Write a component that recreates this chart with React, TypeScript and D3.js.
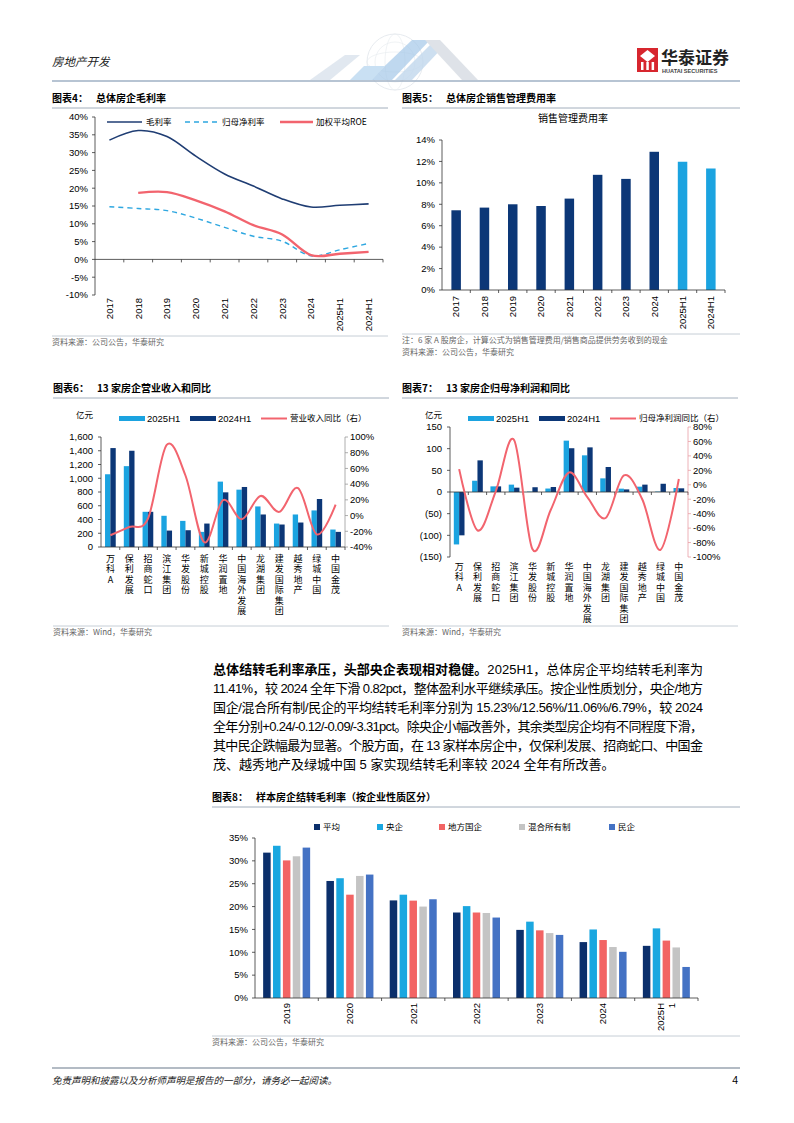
import React from 'react';
import * as d3 from 'd3';

const FONT = "'Liberation Sans', Arial, 'Noto Sans CJK SC', sans-serif";
const CJK = "'Noto Sans CJK SC', 'Liberation Sans', sans-serif";

const NAVY = '#0c3777';
const LIGHT = '#1ba3e0';
const RED = '#f2646e';
const AXIS = '#333';
const SRC = '#666';

// ---------- Chart 4 ----------
const years4 = ['2017', '2018', '2019', '2020', '2021', '2022', '2023', '2024', '2025H1', '2024H1'];
const grossMargin = [33.5, 36.2, 34.5, 29.0, 24.0, 20.6, 17.0, 14.7, 15.2, 15.6];
const netMargin = [14.8, 14.3, 13.7, 11.6, 9.0, 6.5, 5.1, 1.0, 2.7, 4.5];
const roe: (number | null)[] = [null, 18.7, 18.9, 16.6, 13.5, 9.6, 7.0, 1.2, 1.6, 2.1];
const ticks4 = [-10, -5, 0, 5, 10, 15, 20, 25, 30, 35, 40];

// ---------- Chart 5 ----------
const years5 = ['2017', '2018', '2019', '2020', '2021', '2022', '2023', '2024', '2025H1', '2024H1'];
const sgaRate = [7.44, 7.69, 8.0, 7.84, 8.53, 10.75, 10.37, 12.9, 11.97, 11.34];
const ticks5 = [0, 2, 4, 6, 8, 10, 12, 14];

// ---------- Chart 6 & 7 ----------
const companies = ['万科A', '保利发展', '招商蛇口', '滨江集团', '华发股份', '新城控股', '华润置地', '中国海外发展', '龙湖集团', '建发国际集团', '越秀地产', '绿城中国', '中国金茂'];
const rev2025 = [1058, 1176, 512, 454, 380, 220, 951, 834, 590, 341, 473, 532, 254];
const rev2024 = [1439, 1400, 512, 239, 244, 341, 795, 873, 473, 327, 356, 698, 220];
const revYoY = [-25, -14.5, -4, 90, 51, -34, 19.6, -4.7, 25, 4.7, 35, -24, 14];
const revTicksL = [0, 200, 400, 600, 800, 1000, 1200, 1400, 1600];
const revTicksR = [-40, -20, 0, 20, 40, 60, 80, 100];

const np2025 = [-121, 26, 13, 17, 1, 8, 118.5, 84.6, 31.5, 7.7, 12.3, 1, 9.2];
const np2024 = [-100, 73, 13, 10, 11, 11.5, 101, 103, 57.7, 6, 17, 19, 8.5];
const npYoY = [21.7, -63, -9, 62, -89, -35, 17, -17, -46, 13, -20, -90, 8];
const npTicksL = [-150, -100, -50, 0, 50, 100, 150];
const npTicksR = [-100, -80, -60, -40, -20, 0, 20, 40, 60, 80];

// ---------- Chart 8 ----------
const periods8 = ['2019', '2020', '2021', '2022', '2023', '2024', '2025H1'];
const series8 = ['平均', '央企', '地方国企', '混合所有制', '民企'];
const colors8 = ['#0b2f6b', '#1aa7e0', '#f26464', '#c4c4c4', '#4472c4'];
const avg8 = [31.8, 25.6, 21.35, 18.7, 14.9, 12.23, 11.41];
const central8 = [33.3, 26.2, 22.6, 20.1, 16.7, 14.99, 15.23];
const local8 = [30.1, 22.6, 21.3, 18.7, 14.8, 12.68, 12.56];
const mixed8 = [31.0, 26.7, 20.0, 18.6, 14.2, 11.15, 11.06];
const private8 = [32.9, 27.0, 21.6, 17.6, 13.8, 10.1, 6.79];
const ticks8 = [0, 5, 10, 15, 20, 25, 30, 35];

const bodyLines = [
  { bold: '总体结转毛利率承压，头部央企表现相对稳健。', rest: '2025H1，总体房企平均结转毛利率为', justify: true },
  { bold: '', rest: '11.41%，较 2024 全年下滑 0.82pct，整体盈利水平继续承压。按企业性质划分，央企/地方', justify: true },
  { bold: '', rest: '国企/混合所有制/民企的平均结转毛利率分别为 15.23%/12.56%/11.06%/6.79%，较 2024', justify: true },
  { bold: '', rest: '全年分别+0.24/-0.12/-0.09/-3.31pct。除央企小幅改善外，其余类型房企均有不同程度下滑，', justify: true },
  { bold: '', rest: '其中民企跌幅最为显著。个股方面，在 13 家样本房企中，仅保利发展、招商蛇口、中国金', justify: true },
  { bold: '', rest: '茂、越秀地产及绿城中国 5 家实现结转毛利率较 2024 全年有所改善。', justify: false },
];

function Title({ x, y, x2, label, text }: { x: number; y: number; x2: number; label: string; text: string }) {
  return (
    <g>
      <text x={x} y={y} fontFamily={CJK} fontSize={10} fontWeight="bold" fill="#000">
        {label}
        <tspan dx={8}>{text}</tspan>
      </text>
      <line x1={x} x2={x2} y1={y + 6} y2={y + 6} stroke="#8a9aab" strokeWidth={0.8} />
    </g>
  );
}

function Source({ x, y, x2, lines }: { x: number; y: number; x2: number; lines: string[] }) {
  return (
    <g>
      <line x1={x} x2={x2} y1={y - 9} y2={y - 9} stroke="#b8c2cc" strokeWidth={0.8} />
      {lines.map((l, i) => (
        <text key={i} x={x} y={y + i * 12} fontFamily={CJK} fontSize={8} fill={SRC}>{l}</text>
      ))}
    </g>
  );
}

function Chart4() {
  const x = d3.scaleBand().domain(years4).range([95, 383]);
  const y = d3.scaleLinear().domain([-10, 40]).range([295, 117]);
  const cx = (d: string) => (x(d) as number) + x.bandwidth() / 2;
  const mk = (vals: (number | null)[]) =>
    d3.line<number | null>()
      .defined((v) => v !== null)
      .x((_, i) => cx(years4[i]))
      .y((v) => y(v as number))
      .curve(d3.curveCardinal)(vals) as string;
  return (
    <g>
      <Title x={52} y={102} x2={388} label="图表4：" text="总体房企毛利率" />
      {ticks4.map((t) => (
        <g key={t}>
          <line x1={92} x2={95} y1={y(t)} y2={y(t)} stroke={AXIS} strokeWidth={0.8} />
          <text x={88} y={y(t)} dy="0.35em" textAnchor="end" fontFamily={FONT} fontSize={9.5}>{t}%</text>
        </g>
      ))}
      <line x1={95} x2={95} y1={y(40)} y2={y(-10)} stroke={AXIS} strokeWidth={0.8} />
      <line x1={95} x2={383} y1={y(0)} y2={y(0)} stroke={AXIS} strokeWidth={0.8} />
      {years4.map((d) => (
        <g key={d}>
          <line x1={(x(d) as number) + x.bandwidth()} x2={(x(d) as number) + x.bandwidth()} y1={y(0)} y2={y(0) + 3} stroke={AXIS} strokeWidth={0.8} />
          <text transform={`translate(${cx(d)},298) rotate(-90)`} textAnchor="end" dy="0.35em" fontFamily={FONT} fontSize={9.5}>{d}</text>
        </g>
      ))}
      <path d={mk(grossMargin)} fill="none" stroke="#1f3d73" strokeWidth={1.6} />
      <path d={mk(netMargin)} fill="none" stroke="#2ea7e0" strokeWidth={1.4} strokeDasharray="5,4" />
      <path d={mk(roe)} fill="none" stroke={RED} strokeWidth={2.4} />
      <line x1={107} x2={142} y1={122} y2={122} stroke="#1f3d73" strokeWidth={1.6} />
      <text x={146} y={122} dy="0.35em" fontFamily={CJK} fontSize={8.5}>毛利率</text>
      <line x1={185} x2={217} y1={122} y2={122} stroke="#2ea7e0" strokeWidth={1.4} strokeDasharray="5,4" />
      <text x={222} y={122} dy="0.35em" fontFamily={CJK} fontSize={8.5}>归母净利率</text>
      <line x1={280} x2={313} y1={122} y2={122} stroke={RED} strokeWidth={2.4} />
      <text x={316} y={122} dy="0.35em" fontFamily={CJK} fontSize={8.5}>加权平均ROE</text>
      <Source x={52} y={345} x2={388} lines={['资料来源：公司公告，华泰研究']} />
    </g>
  );
}

function Chart5() {
  const x = d3.scaleBand().domain(years5).range([442, 725]);
  const y = d3.scaleLinear().domain([0, 14]).range([290, 140]);
  const bw = 9.5;
  return (
    <g>
      <Title x={402} y={102} x2={740} label="图表5：" text="总体房企销售管理费用率" />
      <text x={573} y={122} textAnchor="middle" fontFamily={CJK} fontSize={10}>销售管理费用率</text>
      {ticks5.map((t) => (
        <g key={t}>
          <line x1={439} x2={442} y1={y(t)} y2={y(t)} stroke={AXIS} strokeWidth={0.8} />
          <text x={435} y={y(t)} dy="0.35em" textAnchor="end" fontFamily={FONT} fontSize={9.5}>{t}%</text>
        </g>
      ))}
      {years5.map((d, i) => {
        const c = (x(d) as number) + x.bandwidth() / 2;
        return (
          <g key={d}>
            <rect x={c - bw / 2} y={y(sgaRate[i])} width={bw} height={y(0) - y(sgaRate[i])} fill={i < 8 ? NAVY : LIGHT} />
            <line x1={(x(d) as number) + x.bandwidth()} x2={(x(d) as number) + x.bandwidth()} y1={290} y2={293} stroke={AXIS} strokeWidth={0.8} />
            <text transform={`translate(${c},296) rotate(-90)`} textAnchor="end" dy="0.35em" fontFamily={FONT} fontSize={9.5}>{d}</text>
          </g>
        );
      })}
      <line x1={442} x2={442} y1={140} y2={290} stroke={AXIS} strokeWidth={0.8} />
      <line x1={442} x2={725} y1={290} y2={290} stroke={AXIS} strokeWidth={0.8} />
      <Source x={402} y={343} x2={740} lines={['注：6 家 A 股房企，计算公式为销售管理费用/销售商品提供劳务收到的现金', '资料来源：公司公告，华泰研究']} />
    </g>
  );
}

function VLabel({ x, y, text }: { x: number; y: number; text: string }) {
  return (
    <text x={x} y={y} fontFamily={CJK} fontSize={9} letterSpacing={1.5}
      style={{ writingMode: 'vertical-rl', textOrientation: 'upright' } as any}>
      {text}
    </text>
  );
}

function DualChart({ left, right, top, bottom, title, label, lineName, v25, v24, yoy, ticksL, ticksR, domL, domR, fmtL, labelY, rightAxisColor }: any) {
  const x = d3.scaleBand().domain(companies).range([left, right]);
  const yL = d3.scaleLinear().domain(domL).range([bottom, top]);
  const yR = d3.scaleLinear().domain(domR).range([bottom, top]);
  const bw = 5.35;
  const cx = (d: string) => (x(d) as number) + x.bandwidth() / 2;
  const path = d3.line<number>().x((_, i) => cx(companies[i])).y((v) => yR(v)).curve(d3.curveCardinal)(yoy) as string;
  const x0 = left - 50;
  return (
    <g>
      <Title x={x0 + 2} y={392} x2={x0 + 338} label={label} text={title} />
      <text x={x0 + 25} y={415} dy="0.35em" fontFamily={CJK} fontSize={8.5}>亿元</text>
      <rect x={x0 + 68} y={416} width={26} height={5} fill={LIGHT} />
      <text x={x0 + 96} y={418.5} dy="0.35em" fontFamily={FONT} fontSize={9.5}>2025H1</text>
      <rect x={x0 + 139} y={416} width={26} height={5} fill={NAVY} />
      <text x={x0 + 167} y={418.5} dy="0.35em" fontFamily={FONT} fontSize={9.5}>2024H1</text>
      <line x1={x0 + 210} x2={x0 + 236} y1={418.5} y2={418.5} stroke={RED} strokeWidth={2} />
      <text x={x0 + 239} y={418.5} dy="0.35em" fontFamily={CJK} fontSize={8.5}>{lineName}</text>
      {ticksL.map((t: number) => (
        <g key={t}>
          <line x1={left - 3} x2={left} y1={yL(t)} y2={yL(t)} stroke={AXIS} strokeWidth={0.8} />
          <text x={left - 8} y={yL(t)} dy="0.35em" textAnchor="end" fontFamily={FONT} fontSize={9.5}>{fmtL(t)}</text>
        </g>
      ))}
      {ticksR.map((t: number) => (
        <g key={t}>
          <line x1={right} x2={right + 3} y1={yR(t)} y2={yR(t)} stroke={rightAxisColor} strokeWidth={0.8} />
          <text x={right + 5} y={yR(t)} dy="0.35em" fontFamily={FONT} fontSize={9.5}>{t}%</text>
        </g>
      ))}
      {companies.map((d: string, i: number) => {
        const c = cx(d);
        const a = v25[i];
        const b = v24[i];
        return (
          <g key={d}>
            <rect x={c - bw} y={Math.min(yL(a), yL(0))} width={bw} height={Math.abs(yL(a) - yL(0))} fill={LIGHT} />
            <rect x={c} y={Math.min(yL(b), yL(0))} width={bw} height={Math.abs(yL(b) - yL(0))} fill={NAVY} />
            <line x1={(x(d) as number) + x.bandwidth()} x2={(x(d) as number) + x.bandwidth()} y1={yL(0)} y2={yL(0) + 3} stroke={AXIS} strokeWidth={0.8} />
            <VLabel x={c} y={labelY} text={d} />
          </g>
        );
      })}
      <line x1={left} x2={left} y1={top} y2={bottom} stroke={AXIS} strokeWidth={0.8} />
      <line x1={right} x2={right} y1={top} y2={bottom} stroke={rightAxisColor} strokeWidth={0.8} />
      <line x1={left} x2={right} y1={yL(0)} y2={yL(0)} stroke={AXIS} strokeWidth={0.8} />
      <path d={path} fill="none" stroke={RED} strokeWidth={2} />
      <Source x={x0 + 2} y={635} x2={x0 + 338} lines={['资料来源：Wind，华泰研究']} />
    </g>
  );
}

function Chart8() {
  const x0 = d3.scaleBand().domain(periods8).range([255, 698]);
  const x1 = d3.scaleBand().domain(series8).range([0, 47]).paddingInner(0.24);
  const y = d3.scaleLinear().domain([0, 35]).range([998, 838]);
  const vals = [avg8, central8, local8, mixed8, private8];
  const legendX = [317, 380, 442, 522, 612];
  return (
    <g>
      <Title x={212} y={801} x2={740} label="图表8：" text="样本房企结转毛利率（按企业性质区分）" />
      {series8.map((s, i) => (
        <g key={s}>
          <rect x={legendX[i] - 3} y={824} width={6} height={6} fill={colors8[i]} />
          <text x={legendX[i] + 6} y={827} dy="0.35em" fontFamily={CJK} fontSize={8.5}>{s}</text>
        </g>
      ))}
      {ticks8.map((t) => (
        <g key={t}>
          <line x1={252} x2={255} y1={y(t)} y2={y(t)} stroke={AXIS} strokeWidth={0.8} />
          <text x={248} y={y(t)} dy="0.35em" textAnchor="end" fontFamily={FONT} fontSize={9.5}>{t}%</text>
        </g>
      ))}
      {periods8.map((p, pi) => {
        const bx = x0(p) as number;
        const gx = bx + (x0.bandwidth() - 47) / 2;
        const c = bx + x0.bandwidth() / 2;
        return (
          <g key={p}>
            {series8.map((s, si) => (
              <rect key={s} x={gx + (x1(s) as number)} y={y(vals[si][pi])} width={x1.bandwidth()} height={y(0) - y(vals[si][pi])} fill={colors8[si]} />
            ))}
            <line x1={bx + x0.bandwidth()} x2={bx + x0.bandwidth()} y1={998} y2={1001} stroke={AXIS} strokeWidth={0.8} />
            {p === '2025H1' ? (
              <text transform={`translate(${c},1003) rotate(-90)`} textAnchor="end" fontFamily={FONT} fontSize={9.5}>
                <tspan x={0} dy="-0.2em">2025H</tspan>
                <tspan x={0} dy="1.1em">1</tspan>
              </text>
            ) : (
              <text transform={`translate(${c},1003) rotate(-90)`} textAnchor="end" dy="0.35em" fontFamily={FONT} fontSize={9.5}>{p}</text>
            )}
          </g>
        );
      })}
      <line x1={255} x2={255} y1={838} y2={998} stroke={AXIS} strokeWidth={0.8} />
      <line x1={255} x2={698} y1={998} y2={998} stroke={AXIS} strokeWidth={0.8} />
      <Source x={212} y={1045} x2={740} lines={['资料来源：公司公告，华泰研究']} />
    </g>
  );
}

function Header() {
  return (
    <g>
      <g opacity={0.55}>
        <circle cx={395} cy={62} r={28} fill="none" stroke="#c9d2dc" strokeWidth={0.8} />
        <circle cx={395} cy={62} r={20} fill="none" stroke="#d4dbe3" strokeWidth={0.6} />
        <ellipse cx={395} cy={62} rx={28} ry={10} fill="none" stroke="#d4dbe3" strokeWidth={0.6} />
        <ellipse cx={395} cy={62} rx={10} ry={28} fill="none" stroke="#d4dbe3" strokeWidth={0.6} />
        <polygon points="310,80 330,80 360,55 345,55" fill="#c9d6e4" />
        <polygon points="370,80 392,80 430,40 412,40" fill="#5b9bd5" opacity={0.7} />
        <polygon points="395,80 412,80 445,45 430,45" fill="#8fb8de" opacity={0.8} />
        <polygon points="425,40 440,40 478,80 462,80" fill="#c4ccd6" />
        <polygon points="350,80 372,80 385,66 364,66" fill="#9ec8ea" />
      </g>
      <text x={52} y={66} fontFamily={CJK} fontSize={11.5} fontStyle="italic" fill="#222">房地产开发</text>
      <rect x={637} y={48} width={21} height={24} fill="#d7262e" />
      <polygon points="640,56 647.5,50 655,56 647.5,62" fill="#fff" />
      <rect x={641} y={62} width={2.5} height={8} fill="#fff" />
      <rect x={646.3} y={62} width={2.5} height={8} fill="#fff" />
      <rect x={651.6} y={62} width={2.5} height={8} fill="#fff" />
      <text x={661} y={64} fontFamily={CJK} fontSize={17} fontWeight="bold" fill="#222">华泰证券</text>
      <text x={662} y={73} fontFamily={FONT} fontSize={5.6} fontWeight="bold" fill="#444">HUATAI SECURITIES</text>
      <line x1={52} x2={740} y1={81} y2={81} stroke="#9fb1c4" strokeWidth={1.5} />
    </g>
  );
}

function Body() {
  return (
    <g>
      {bodyLines.map((l, i) => (
        <text key={i} x={213} y={674 + i * 19} fontFamily={FONT} fontSize={13} fill="#000"
          {...(l.justify ? { textLength: 490, lengthAdjust: 'spacing' } : {})}>
          {l.bold && <tspan fontWeight="bold">{l.bold}</tspan>}
          <tspan>{l.rest}</tspan>
        </text>
      ))}
    </g>
  );
}

export default function App() {
  return (
    <svg width={794} height={1123} style={{ position: 'absolute', left: 0, top: 0, background: '#fff' }}>
      <rect width={794} height={1123} fill="#fff" />
      <Header />
      <Chart4 />
      <Chart5 />
      <DualChart left={101} right={345} top={437} bottom={547} title="13 家房企营业收入和同比" label="图表6："
        lineName="营业收入同比（右）" v25={rev2025} v24={rev2024} yoy={revYoY} ticksL={revTicksL} ticksR={revTicksR}
        domL={[0, 1600]} domR={[-40, 100]} fmtL={d3.format(',')} labelY={554} rightAxisColor="#999" />
      <DualChart left={450} right={688} top={427} bottom={557} title="13 家房企归母净利润和同比" label="图表7："
        lineName="归母净利润同比（右）" v25={np2025} v24={np2024} yoy={npYoY} ticksL={npTicksL} ticksR={npTicksR}
        domL={[-150, 150]} domR={[-100, 80]} fmtL={(t: number) => (t < 0 ? `(${-t})` : `${t}`)} labelY={562} rightAxisColor="#e8a0a6" />
      <Body />
      <Chart8 />
      <line x1={52} x2={740} y1={1068} y2={1068} stroke="#9aa5b1" strokeWidth={1.5} />
      <text x={52} y={1084} fontFamily={CJK} fontSize={9.5} fontStyle="italic" fill="#222">免责声明和披露以及分析师声明是报告的一部分，请务必一起阅读。</text>
      <text x={738} y={1084} textAnchor="end" fontFamily={FONT} fontSize={10.5} fill="#000">4</text>
    </svg>
  );
}
